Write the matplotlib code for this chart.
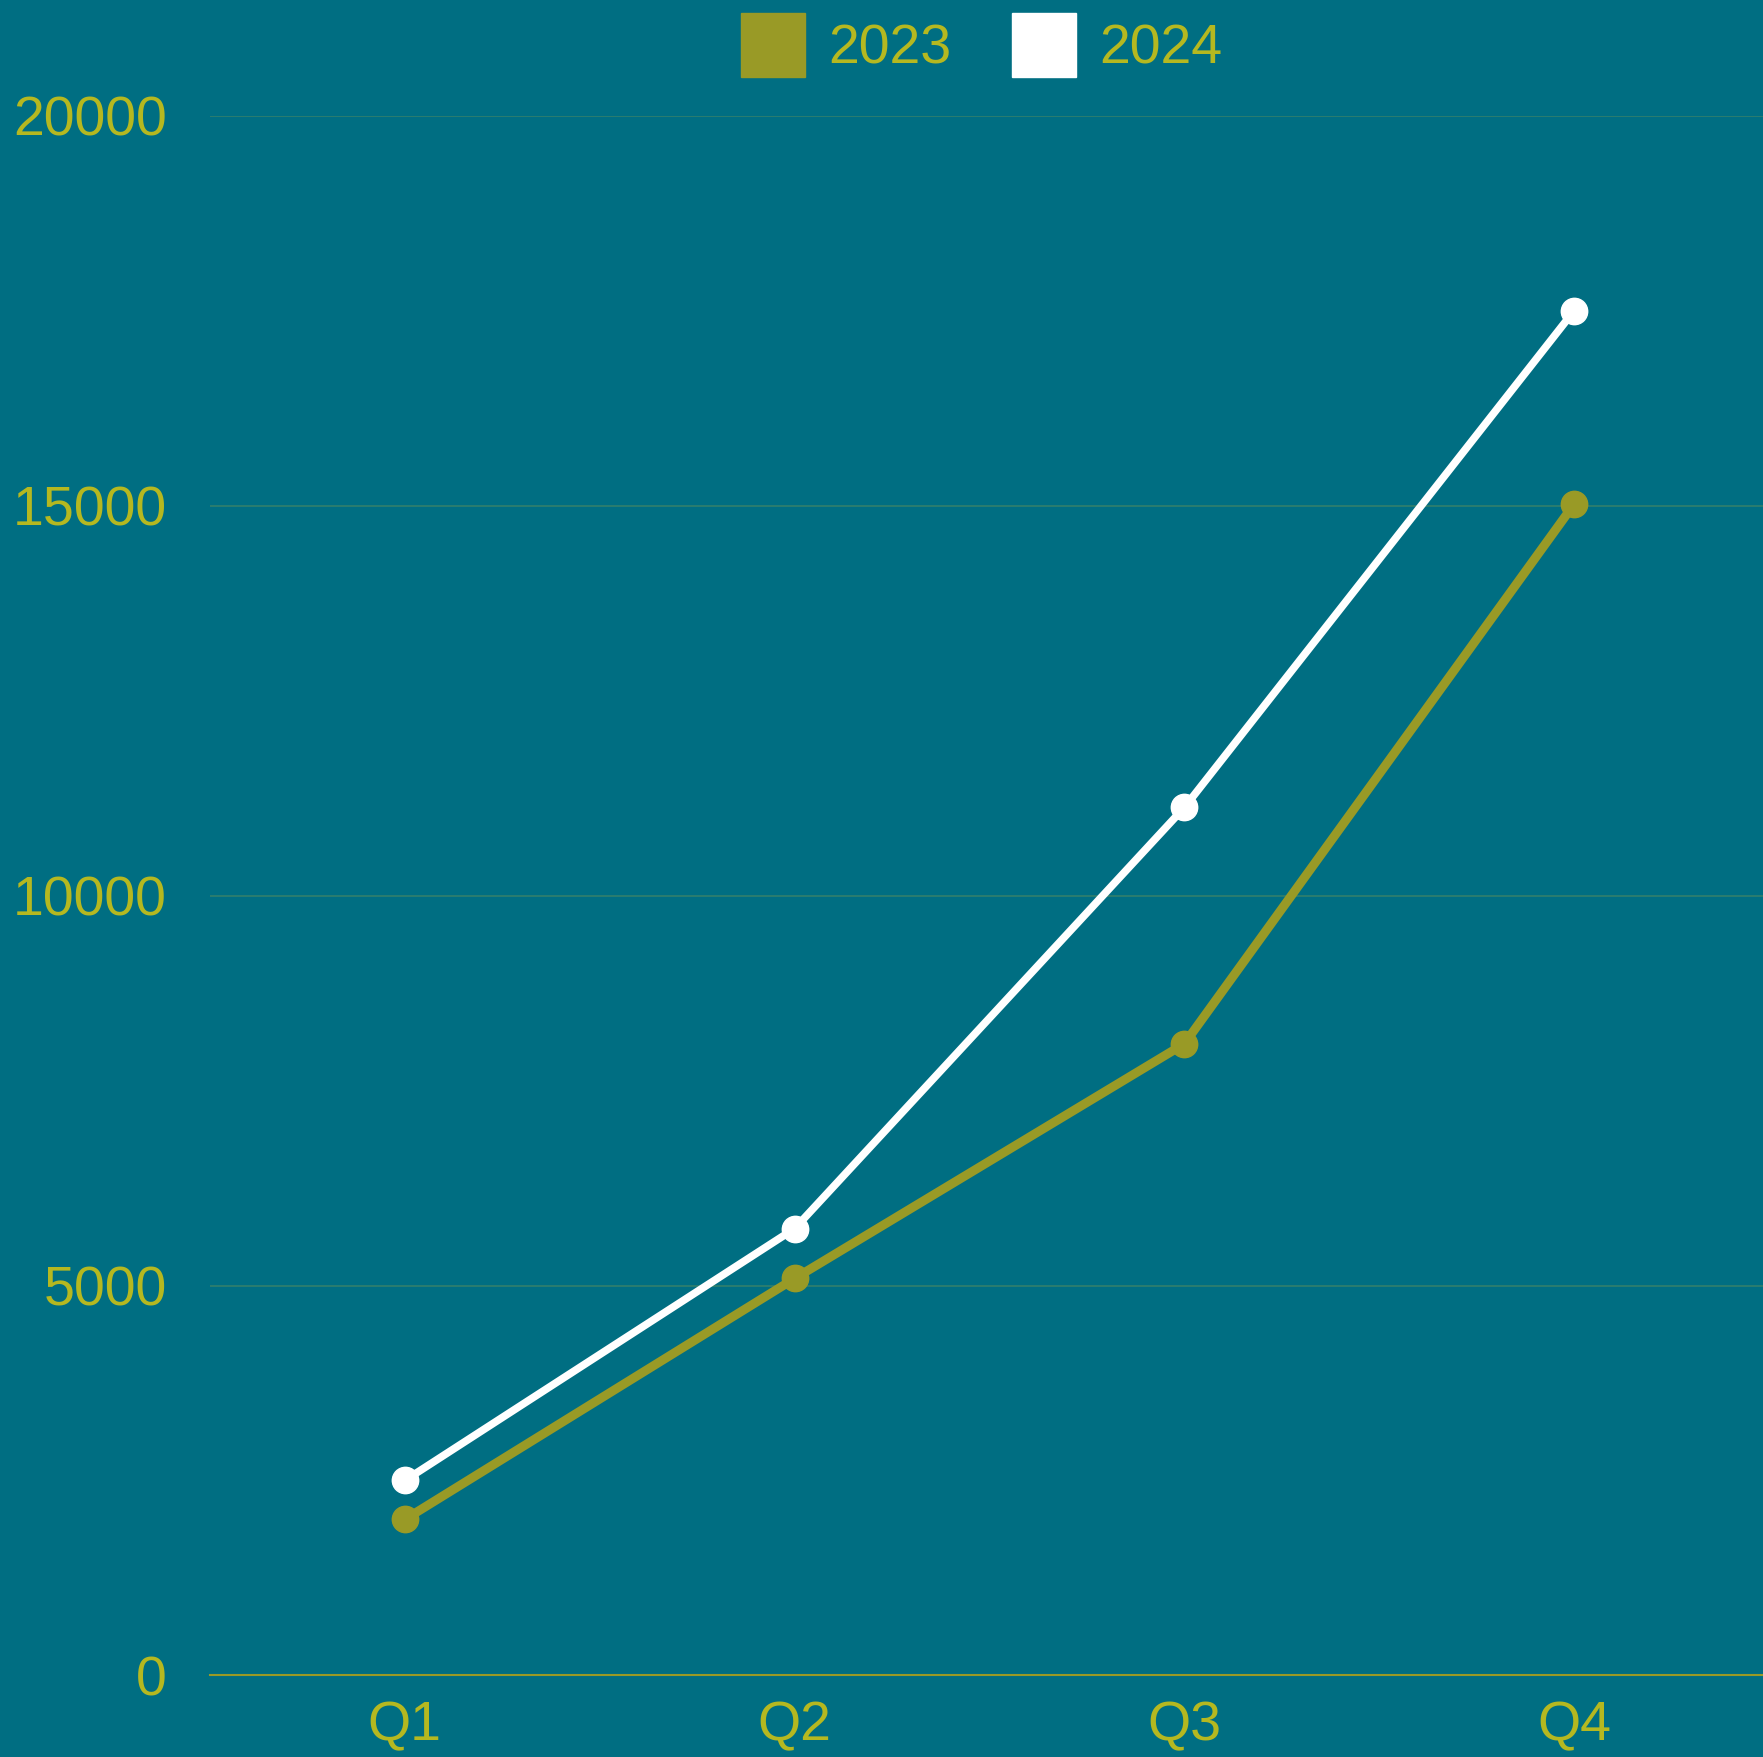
import matplotlib
matplotlib.use("Agg")
import matplotlib.pyplot as plt
from matplotlib.patches import Patch

categories = ["Q1", "Q2", "Q3", "Q4"]
series_2023 = [2000, 5090, 8100, 15020]
series_2024 = [2500, 5730, 11130, 17500]
y_ticks = [0, 5000, 10000, 15000, 20000]

BG = "#006E82"
OLIVE = "#999A26"
TEXT = "#B5B820"
GRID = "#2E7E6E"

plt.rcParams['font.family'] = ['Liberation Sans', 'DejaVu Sans']

W, H = 1763, 1757
fig = plt.figure(figsize=(W / 100, H / 100), dpi=100)
fig.patch.set_facecolor(BG)
left, right = 210 / W, 1769 / W
bottom, top = 1 - 1675.4 / H, 1 - 115.8 / H
ax = fig.add_axes([left, bottom, right - left, top - bottom])
ax.set_facecolor(BG)

x = list(range(len(categories)))
ax.plot(x, series_2023, color=OLIVE, lw=6.5, marker="o", ms=19, zorder=3, solid_capstyle="round")
ax.plot(x, series_2024, color="white", lw=5.5, marker="o", ms=19, zorder=4, solid_capstyle="round")

ax.set_xlim(-0.5, 3.5)
ax.set_ylim(0, 20000)
ax.set_xticks(x)
ax.set_xticklabels(categories)
ax.set_yticks(y_ticks)
ax.set_yticklabels([str(v) for v in y_ticks])
ax.tick_params(axis="both", length=0, colors=TEXT, labelsize=40)
ax.tick_params(axis="y", pad=31)
ax.tick_params(axis="x", pad=18)
ax.grid(axis="y", color=GRID, lw=1.3)
ax.grid(axis="x", visible=False)
for s in ["top", "right", "left"]:
    ax.spines[s].set_visible(False)
ax.spines["bottom"].set_color(OLIVE)
ax.spines["bottom"].set_linewidth(1.5)
ax.set_axisbelow(True)

handles = [Patch(facecolor=OLIVE, edgecolor=OLIVE, label="2023"),
           Patch(facecolor="white", edgecolor="white", label="2024")]
leg = fig.legend(handles=handles, loc="upper center", bbox_to_anchor=(0.5568, 0.999),
                 ncol=2, frameon=False, fontsize=40, labelcolor=TEXT,
                 handlelength=1.15, handleheight=1.4, handletextpad=0.42,
                 columnspacing=1.1, borderaxespad=0.0, borderpad=0.2)

fig.savefig("out.png", dpi=100, facecolor=BG)
